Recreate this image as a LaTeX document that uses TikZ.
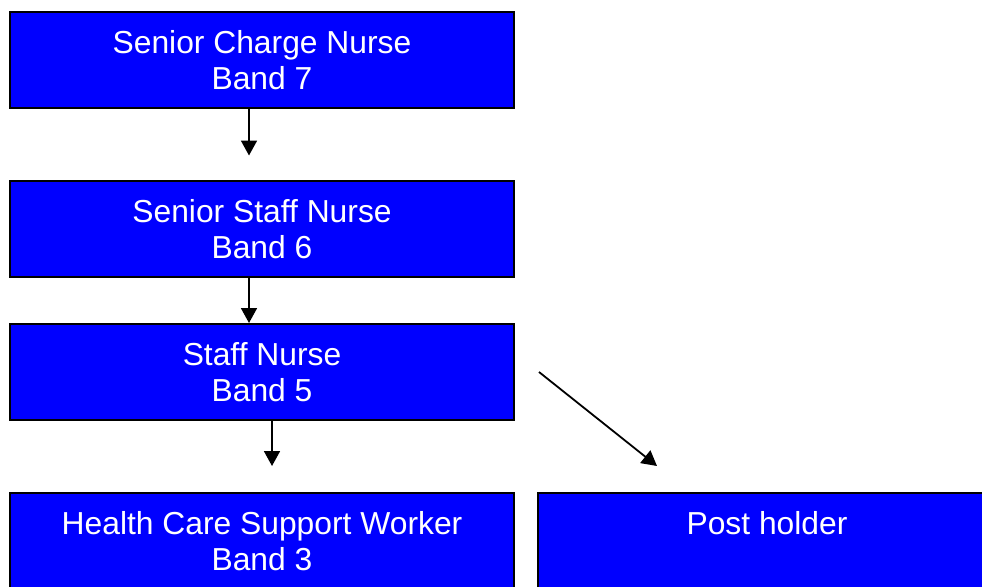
\documentclass[tikz,border=0pt]{standalone}
\usepackage{fontspec}
\setmainfont{Liberation Sans}
\usetikzlibrary{arrows.meta}
\begin{document}
\begin{tikzpicture}
[x=1pt,y=-1pt,
 bandbox/.style={shape=rectangle,draw=black,line width=2pt,fill=blue,
   text=white,align=center,inner sep=0pt,minimum height=96pt,
   text height=59pt,text depth=0pt,
   font=\fontsize{31.8}{36}\selectfont},
 singlebox/.style={bandbox,text height=23pt,text depth=36pt},
 linkarrow/.style={-{Triangle[length=15pt,width=16pt]},line width=1.8pt}]
\useasboundingbox (0,0) rectangle (982,586);
\clip (0,0) rectangle (982,586);
%% boxes
\foreach \nodename/\x/\y/\w/\boxstyle/\txt in {
  charge/262/60/504/bandbox/{Senior Charge Nurse\\Band 7},
  senior/262/228.5/504/bandbox/{Senior Staff Nurse\\Band 6},
  staff/262/372/504/bandbox/{Staff Nurse\\Band 5},
  hcsw/262/541/504/bandbox/{Health Care Support Worker\\Band 3},
  holder/767/541/458/singlebox/{Post holder}} {
  \node (\nodename) at (\x,\y) [\boxstyle,minimum width=\w pt] {\txt};
}
%% arrows
\draw[linkarrow] ([xshift=-13pt]charge.south) -- ([xshift=-13pt,yshift=24pt]senior.north);
\draw[linkarrow] ([xshift=-13pt]senior.south) -- ([xshift=-13pt]staff.north);
\draw[linkarrow] ([xshift=10pt]staff.south) -- ([xshift=10pt,yshift=26pt]hcsw.north);
\draw[linkarrow] ([xshift=24pt]staff.east) -- ([xshift=-110pt,yshift=26pt]holder.north);
\end{tikzpicture}
\end{document}
